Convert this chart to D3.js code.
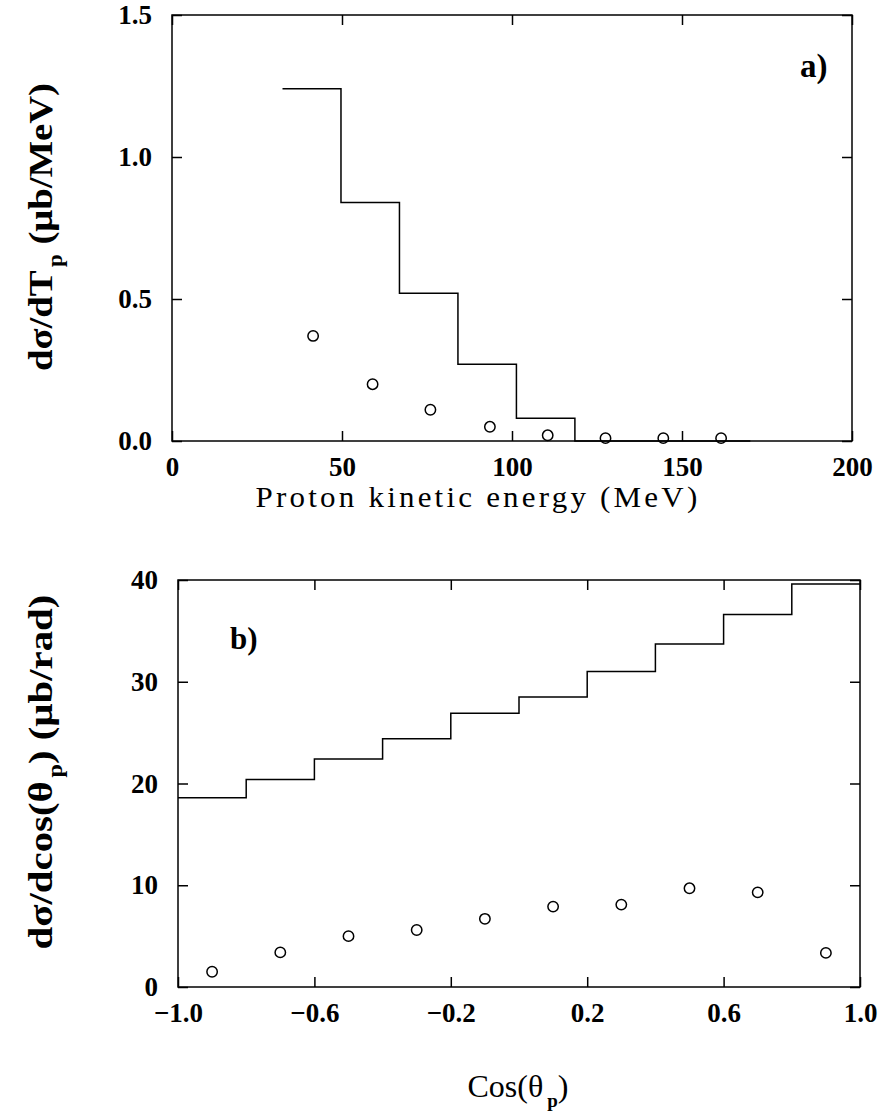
<!DOCTYPE html>
<html>
<head>
<meta charset="utf-8">
<script src="https://cdn.jsdelivr.net/npm/d3@7"></script>
<style>
  html, body { margin: 0; padding: 0; background: #fff; }
  svg { display: block; }
  .tick text { font-family: "Liberation Serif", "DejaVu Serif", serif; font-weight: bold; font-size: 27px; fill: #000; }
  .title { font-family: "Liberation Serif", "DejaVu Serif", serif; fill: #000; }
</style>
</head>
<body>
<svg id="chart" width="881" height="1114"></svg>
<script>
// Panel a: proton kinetic energy spectrum
const energyBinEdges = [32.5, 49.7, 66.9, 84.1, 101.3, 118.5, 135.7, 152.9, 170.1];
const energyHistValues = [1.24, 0.84, 0.52, 0.27, 0.08, 0, 0, 0];
const energyPointsX = [41.5, 59.0, 76.0, 93.5, 110.5, 127.5, 144.5, 161.5];
const energyPointsY = [0.37, 0.20, 0.11, 0.05, 0.02, 0.01, 0.01, 0.01];
const energyTickLabels = [0, 50, 100, 150, 200];
const energyYTicks = [0.0, 0.5, 1.0, 1.5];

// Panel b: proton angular distribution
const cosBinEdges = [-1.0, -0.8, -0.6, -0.4, -0.2, 0.0, 0.2, 0.4, 0.6, 0.8, 1.0];
const cosHistValues = [18.6, 20.4, 22.4, 24.4, 26.9, 28.5, 31.0, 33.7, 36.6, 39.6];
const cosPointsX = [-0.9, -0.7, -0.5, -0.3, -0.1, 0.1, 0.3, 0.5, 0.7, 0.9];
const cosPointsY = [1.5, 3.4, 5.0, 5.6, 6.7, 7.9, 8.1, 9.7, 9.3, 3.35];
const cosTickLabels = [-1.0, -0.6, -0.2, 0.2, 0.6, 1.0];
const cosYTicks = [0, 10, 20, 30, 40];

const svg = d3.select("#chart");
const LW = 1.5;

function panel(cfg) {
  const g = svg.append("g");
  const x = d3.scaleLinear().domain(cfg.xDomain).range([cfg.left, cfg.right]);
  const y = d3.scaleLinear().domain(cfg.yDomain).range([cfg.bottom, cfg.top]);
  const tl = 10;

  // frame
  g.append("rect")
    .attr("x", cfg.left).attr("y", cfg.top)
    .attr("width", cfg.right - cfg.left).attr("height", cfg.bottom - cfg.top)
    .attr("fill", "none").attr("stroke", "#000").attr("stroke-width", LW);

  // bottom axis with labels, inward ticks
  const bx = g.append("g").attr("transform", `translate(0,${cfg.bottom})`)
    .call(d3.axisBottom(x).tickValues(cfg.xTicks).tickFormat(cfg.xFormat)
      .tickSize(-tl).tickPadding(16));
  // top axis ticks only
  const tx = g.append("g").attr("transform", `translate(0,${cfg.top})`)
    .call(d3.axisTop(x).tickValues(cfg.xTicks).tickFormat("").tickSize(-tl));
  // left axis with labels
  const ly = g.append("g").attr("transform", `translate(${cfg.left},0)`)
    .call(d3.axisLeft(y).tickValues(cfg.yTicks).tickFormat(cfg.yFormat)
      .tickSize(-tl).tickPadding(cfg.yPad));
  // right axis ticks only
  const ry = g.append("g").attr("transform", `translate(${cfg.right},0)`)
    .call(d3.axisRight(y).tickValues(cfg.yTicks).tickFormat("").tickSize(-tl));

  [bx, tx, ly, ry].forEach(a => {
    a.select(".domain").remove();
    a.selectAll(".tick line").attr("stroke", "#000").attr("stroke-width", LW);
  });

  // histogram (step line)
  const steps = cfg.edges.slice(0, -1).map((e, i) => [e, cfg.hist[i]]);
  steps.push([cfg.edges[cfg.edges.length - 1], cfg.hist[cfg.hist.length - 1]]);
  g.append("path")
    .attr("d", d3.line().x(d => x(d[0])).y(d => y(d[1])).curve(d3.curveStepAfter)(steps))
    .attr("fill", "none").attr("stroke", "#000").attr("stroke-width", LW);

  // data points
  g.selectAll("circle.pt").data(cfg.px.map((v, i) => [v, cfg.py[i]]))
    .join("circle").attr("class", "pt")
    .attr("cx", d => x(d[0])).attr("cy", d => y(d[1])).attr("r", 5.2)
    .attr("fill", "none").attr("stroke", "#000").attr("stroke-width", 1.5);

  return { g, x, y };
}

const pa = panel({
  left: 172, right: 852, top: 15, bottom: 441,
  xDomain: [0, 200], yDomain: [0, 1.5],
  xTicks: energyTickLabels, yTicks: energyYTicks,
  xFormat: d3.format("d"), yFormat: d3.format(".1f"), yPad: 20,
  edges: energyBinEdges, hist: energyHistValues,
  px: energyPointsX, py: energyPointsY
});

const pb = panel({
  left: 178, right: 860, top: 580, bottom: 987,
  xDomain: [-1, 1], yDomain: [0, 40],
  xTicks: cosTickLabels, yTicks: cosYTicks,
  xFormat: d3.format(".1f"), yFormat: d3.format("d"), yPad: 20,
  edges: cosBinEdges, hist: cosHistValues,
  px: cosPointsX, py: cosPointsY
});

// stretch a text element horizontally (in its own frame) to a given length
function fit(t, len, cx, cy, rot) {
  const w = t.node().getBBox().width;
  const s = len / w;
  t.attr("transform", `translate(${cx},${cy}) rotate(${rot}) scale(${s},1)`);
}

// panel labels
svg.append("text").attr("class", "title")
  .attr("x", 800).attr("y", 77).attr("font-size", 33).attr("font-weight", "bold")
  .text("a)");
svg.append("text").attr("class", "title")
  .attr("x", 230).attr("y", 649).attr("font-size", 31).attr("font-weight", "bold")
  .text("b)");

// x axis titles
const pt = svg.append("text").attr("class", "title")
  .attr("text-anchor", "middle").attr("font-size", 29).attr("letter-spacing", "3px")
  .text("Proton kinetic energy (MeV)");
fit(pt, 445, 478, 507, 0);

const cosT = svg.append("text").attr("class", "title")
  .attr("text-anchor", "middle").attr("font-size", 32);
cosT.append("tspan").text("Cos(\u03B8");
cosT.append("tspan").attr("font-size", 19).attr("font-weight", "bold").attr("dy", 10).attr("dx", 4).text("p");
cosT.append("tspan").attr("dy", -10).text(")");
cosT.attr("transform", "translate(518,1097)");

// y axis titles (rotated)
function yTitle(cx, cy, len, parts) {
  const t = svg.append("text").attr("class", "title")
    .attr("text-anchor", "middle").attr("font-size", 34).attr("font-weight", "bold");
  parts.forEach(p => {
    const s = t.append("tspan").text(p.t);
    if (p.sub) s.attr("font-size", 20).attr("dy", 10).attr("dx", 3);
    if (p.up) s.attr("dy", -10);
  });
  fit(t, len, cx, cy, -90);
}
yTitle(52, 227, 288, [
  { t: "d\u03C3/dT" }, { t: "p", sub: true }, { t: " (\u03BCb/MeV)", up: true }
]);
yTitle(52, 772, 355, [
  { t: "d\u03C3/dcos(\u03B8" }, { t: "p", sub: true }, { t: ")  (\u03BCb/rad)", up: true }
]);
</script>
</body>
</html>
